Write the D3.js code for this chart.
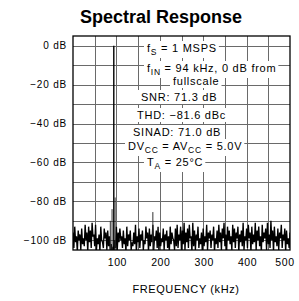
<!DOCTYPE html>
<html>
<head>
<meta charset="utf-8">
<script src="https://cdn.jsdelivr.net/npm/d3@7/dist/d3.min.js"></script>
<style>
  body { margin: 0; background: #fff; }
  svg { display: block; font-family: "Liberation Sans", Arial, sans-serif; }
</style>
</head>
<body>
<div id="chart"></div>
<script>
// noise floor, one value every 2 kHz from 0 to 500 kHz (dB)
let noiseStep = 2;
let noiseDb = [
  -96,-104,-93,-101,-98,-106,-95,-100,-97,-105,
  -94,-102,-99,-103,-92,-100,-96,-106,-93,-101,
  -95,-104,-91,-98,-97,-103,-92,-105,-99,-102,
  -97,-106,-93,-100,-101,-104,-94,-99,-96,-105,
  -95,-103,-98,-106,-102,-105,-104,-106,-100,-104,
  -93,-105,-96,-101,-94,-99,-98,-104,-95,-102,
  -99,-106,-93,-103,-97,-100,-95,-105,-101,-103,
  -96,-102,-92,-106,-98,-101,-94,-104,-97,-100,
  -95,-105,-100,-102,-93,-99,-96,-106,-94,-103,
  -97,-101,-92,-105,-98,-100,-95,-104,-93,-106,
  -96,-103,-99,-101,-94,-105,-97,-100,-95,-104,
  -98,-106,-93,-102,-96,-99,-100,-105,-94,-103,
  -92,-104,-97,-100,-93,-106,-95,-102,-91,-105,
  -96,-101,-94,-104,-92,-99,-98,-106,-91,-103,
  -95,-105,-97,-100,-93,-104,-99,-102,-96,-106,
  -94,-103,-98,-101,-92,-105,-96,-99,-95,-104,
  -97,-100,-93,-106,-99,-102,-95,-104,-92,-101,
  -96,-105,-94,-99,-91,-103,-97,-106,-93,-100,
  -95,-102,-98,-105,-92,-101,-94,-104,-96,-99,
  -93,-106,-97,-101,-95,-103,-91,-105,-98,-100,
  -94,-104,-92,-99,-96,-106,-93,-102,-97,-101,
  -91,-105,-95,-100,-93,-103,-98,-106,-92,-101,
  -96,-99,-94,-105,-91,-102,-97,-104,-90,-100,
  -95,-106,-93,-101,-98,-103,-94,-105,-96,-99,
  -92,-104,-97,-100,-94,-106,-95,-102,-99,-104,
  -96
];

// fundamental, skirt and harmonic lines
let spurKhz = [86, 90, 94, 97, 184];
let spurDb = [-90, -84, 0, -78, -85.5];

let xTicks = [100, 200, 300, 400, 500];
let yTicks = [0, -20, -40, -60, -80, -100];

// annotation lines: [text, isSubscript]
let notes = [
  [["f", 0], ["S", 1], [" = 1 MSPS", 0]],
  [["f", 0], ["IN", 1], [" = 94 kHz, 0 dB from", 0]],
  [["fullscale", 0]],
  [["SNR: 71.3 dB", 0]],
  [["THD: \u221281.6 dBc", 0]],
  [["SINAD: 71.0 dB", 0]],
  [["DV", 0], ["CC", 1], [" = AV", 0], ["CC", 1], [" = 5.0V", 0]],
  [["T", 0], ["A", 1], [" = 25\u00B0C", 0]]
];

let w = 299, h = 301;
let m = {top: 36, right: 9, bottom: 51, left: 73};

let svg = d3.select("#chart").append("svg")
  .attr("width", w)
  .attr("height", h);

let x = d3.scaleLinear().domain([0, 500]).range([m.left, w - m.right]);
let y = d3.scaleLinear().domain([5, -105]).range([m.top, h - m.bottom]);

svg.append("text")
  .attr("x", 161).attr("y", 23)
  .attr("text-anchor", "middle")
  .attr("font-size", 18).attr("font-weight", "bold")
  .text("Spectral Response");

// grid
let grid = svg.append("g").attr("stroke", "#6a6a6a").attr("stroke-width", 1);
grid.selectAll(".gx").data(d3.range(50, 500, 50)).join("line")
  .attr("x1", d => Math.round(x(d)) + 0.5).attr("x2", d => Math.round(x(d)) + 0.5)
  .attr("y1", y(5)).attr("y2", y(-105));
grid.selectAll(".gy").data(d3.range(0, -101, -10)).join("line")
  .attr("y1", d => Math.round(y(d)) + 0.5).attr("y2", d => Math.round(y(d)) + 0.5)
  .attr("x1", x(0)).attr("x2", x(500));

// annotation boxes + text
let noteX = [147, 147, 173, 141, 137, 133, 128, 147];
let noteY = [52, 72, 85, 101, 119, 136, 150, 166];
let noteG = svg.append("g");
let texts = notes.map((segs, i) => {
  let t = noteG.append("text")
    .attr("x", noteX[i]).attr("y", noteY[i])
    .attr("font-size", 11).attr("letter-spacing", 0.75);
  let sub = false;
  segs.forEach(([s, isSub]) => {
    let ts = t.append("tspan").text(s);
    if (isSub && !sub) ts.attr("dy", 3).attr("font-size", 8.5);
    else if (isSub) ts.attr("font-size", 8.5);
    else if (sub) ts.attr("dy", -3);
    sub = !!isSub;
  });
  return t;
});
texts.forEach(t => {
  let b = t.node().getBBox();
  noteG.insert("rect", "text")
    .attr("x", b.x - 3).attr("y", b.y - 1)
    .attr("width", b.width + 5).attr("height", b.height + 2)
    .attr("fill", "#fff");
});

// data
svg.append("clipPath").attr("id", "clip").append("rect")
  .attr("x", x(0)).attr("y", y(5)).attr("width", x(500) - x(0)).attr("height", y(-105) - y(5));

let plot = svg.append("g").attr("clip-path", "url(#clip)");

plot.append("path")
  .datum(noiseDb)
  .attr("fill", "none").attr("stroke", "#000").attr("stroke-width", 1.35)
  .attr("d", d3.line().x((d, i) => x(i * noiseStep)).y(d => y(d)));

plot.selectAll(".spur").data(spurKhz).join("line")
  .attr("x1", d => x(d)).attr("x2", d => x(d))
  .attr("y1", y(-105))
  .attr("y2", (d, i) => y(spurDb[i]))
  .attr("stroke", (d, i) => spurDb[i] === 0 ? "#000" : "#333")
  .attr("stroke-width", (d, i) => spurDb[i] === 0 ? 1.4 : 1);

// frame
svg.append("rect")
  .attr("x", x(0)).attr("y", y(5))
  .attr("width", x(500) - x(0)).attr("height", y(-105) - y(5))
  .attr("fill", "none").attr("stroke", "#000").attr("stroke-width", 1.3);

// tick labels
svg.selectAll(".yl").data(yTicks).join("text")
  .attr("x", 67).attr("y", d => y(d) + 3.5)
  .attr("text-anchor", "end")
  .attr("font-size", 10).attr("letter-spacing", 0.8)
  .text(d => (d < 0 ? "\u2212" + (-d) : d) + " dB");

svg.selectAll(".xl").data(xTicks).join("text")
  .attr("x", d => x(d) + (d === 500 ? -5 : 1))
  .attr("y", 266)
  .attr("text-anchor", "middle")
  .attr("font-size", 10.5).attr("letter-spacing", 0.6)
  .text(d => d);

svg.append("text")
  .attr("x", 186).attr("y", 293)
  .attr("text-anchor", "middle")
  .attr("font-size", 11).attr("letter-spacing", 0.6)
  .text("FREQUENCY (kHz)");
</script>
</body>
</html>
